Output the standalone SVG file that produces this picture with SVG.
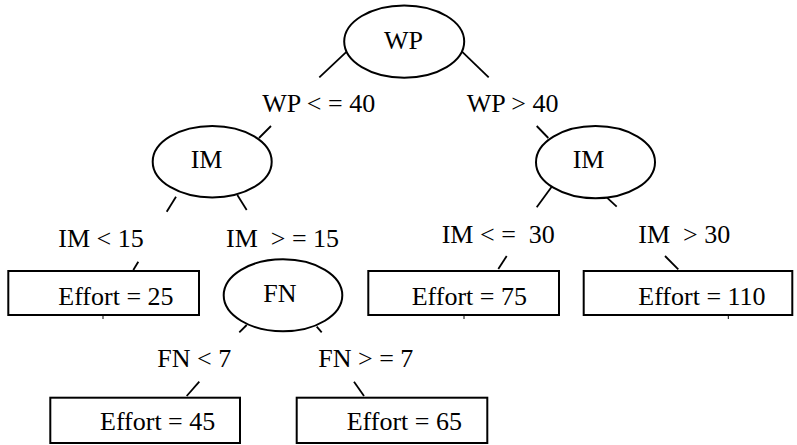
<svg xmlns="http://www.w3.org/2000/svg" width="797" height="445" viewBox="0 0 797 445">
  <style>
    .node { fill: #ffffff; stroke: #000000; stroke-width: 2; }
    .edge { stroke: #000000; stroke-width: 1.8; fill: none; }
    .tick { stroke: #000000; stroke-width: 1; fill: none; }
    text { font-family: 'Liberation Serif', 'Times New Roman', Times, 'Nimbus Roman', 'Noto Serif', 'DejaVu Serif', FreeSerif, serif; font-size: 26px; fill: #000000; white-space: pre; }
  </style>
  <rect width="797" height="445" fill="#ffffff"/>

  <!-- connector stubs and branch labels -->
  <g id="connectors">
    <line class="edge" x1="346.7" y1="51.7" x2="319.3" y2="77.3"/>
    <line class="edge" x1="462" y1="51.7" x2="488.7" y2="77.3"/>
    <line class="edge" x1="271" y1="126" x2="259" y2="138"/>
    <line class="edge" x1="536.7" y1="126" x2="548.3" y2="138"/>
    <line class="edge" x1="176" y1="196.7" x2="166.7" y2="211.7"/>
    <line class="edge" x1="237.3" y1="195" x2="246.7" y2="210"/>
    <line class="edge" x1="551.7" y1="186.7" x2="536.7" y2="207.3"/>
    <line class="edge" x1="606.7" y1="197.3" x2="616.7" y2="206.7"/>
    <line class="edge" x1="138.3" y1="261.7" x2="133.3" y2="270"/>
    <line class="edge" x1="506.7" y1="256" x2="498.3" y2="269"/>
    <line class="edge" x1="665" y1="256" x2="678.3" y2="269.3"/>
    <line class="edge" x1="246.7" y1="325" x2="239.3" y2="332.3"/>
    <line class="edge" x1="316.7" y1="326.7" x2="321.7" y2="332.3"/>
    <line class="edge" x1="199.3" y1="381.7" x2="186.7" y2="396"/>
    <line class="edge" x1="354" y1="381.7" x2="364" y2="396"/>
    <line class="tick" x1="103" y1="316" x2="103" y2="319"/>
    <line class="tick" x1="464" y1="316" x2="464" y2="319"/>
    <line class="tick" x1="728.3" y1="316" x2="728.3" y2="319"/>

    <text x="262.3" y="111.7">WP &lt; = 40</text>
    <text x="466.7" y="111.7">WP &gt; 40</text>
    <text x="58.3" y="246.7">IM &lt; 15</text>
    <text x="226" y="246.7">IM  &gt; = 15</text>
    <text x="441.7" y="242.7">IM &lt; =  30</text>
    <text x="638.3" y="242.7">IM  &gt; 30</text>
    <text x="157.3" y="366.7">FN &lt; 7</text>
    <text x="318.3" y="366.7">FN &gt; = 7</text>
  </g>

  <!-- decision nodes -->
  <g id="node-wp">
    <ellipse class="node" cx="404.2" cy="41.6" rx="60" ry="36.2"/>
    <text x="384" y="49">WP</text>
  </g>
  <g id="node-im-left">
    <ellipse class="node" cx="212.2" cy="161.7" rx="59.5" ry="35.7"/>
    <text x="190.7" y="168.3">IM</text>
  </g>
  <g id="node-im-right">
    <ellipse class="node" cx="595.5" cy="162.2" rx="59.5" ry="36.1"/>
    <text x="572.7" y="168.3">IM</text>
  </g>
  <g id="node-fn">
    <ellipse class="node" cx="283" cy="295.3" rx="59.3" ry="36"/>
    <text x="263.3" y="301.7">FN</text>
  </g>

  <!-- leaf nodes -->
  <g id="leaf-25">
    <rect class="node" x="8.3" y="271" width="190.7" height="44"/>
    <text x="58.3" y="305">Effort = 25</text>
  </g>
  <g id="leaf-75">
    <rect class="node" x="368.3" y="271" width="190.7" height="44"/>
    <text x="411.7" y="305">Effort = 75</text>
  </g>
  <g id="leaf-110">
    <rect class="node" x="583.7" y="271" width="208.6" height="44"/>
    <text x="638.3" y="305">Effort = 110</text>
  </g>
  <g id="leaf-45">
    <rect class="node" x="50.3" y="397.7" width="189.7" height="45.3"/>
    <text x="100" y="430">Effort = 45</text>
  </g>
  <g id="leaf-65">
    <rect class="node" x="296.7" y="397.7" width="190.6" height="45.3"/>
    <text x="346.7" y="430">Effort = 65</text>
  </g>
</svg>
